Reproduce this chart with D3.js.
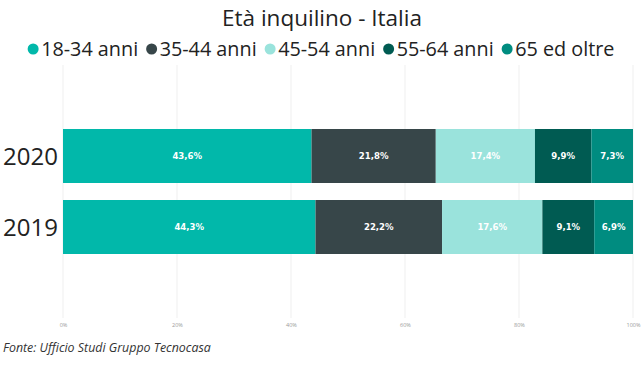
<!DOCTYPE html>
<html><head><meta charset="utf-8">
<script src="https://cdn.jsdelivr.net/npm/d3@7/dist/d3.min.js"></script>
<style>body{margin:0;background:#fff;} svg{display:block;}</style>
</head><body>
<svg id="c" width="642" height="366"></svg>
<script>
const years = ["2020", "2019"];
const series = ["18-34 anni", "35-44 anni", "45-54 anni", "55-64 anni", "65 ed oltre"];
const colors = ["#01B8AA", "#374649", "#9AE3DC", "#005B52", "#008C80"];
const values2020 = [43.6, 21.8, 17.4, 9.9, 7.3];
const values2019 = [44.3, 22.2, 17.6, 9.1, 6.9];
const tickValues = [0, 20, 40, 60, 80, 100];
const title = "Età inquilino - Italia";
const source = "Fonte: Ufficio Studi Gruppo Tecnocasa";

const valuesByYear = {"2020": values2020, "2019": values2019};
const svg = d3.select("#c");
const font = "'Open Sans', 'Noto Sans', sans-serif";

const x = d3.scaleLinear().domain([0, 100]).range([63, 633]);
const y = d3.scaleBand().domain(years).range([129, 254]).paddingInner(0.2394).paddingOuter(0);

// gridlines
svg.append("g").selectAll("line").data(tickValues).join("line")
  .attr("x1", d => x(d)).attr("x2", d => x(d))
  .attr("y1", 65).attr("y2", 318)
  .attr("stroke", "#efefef").attr("stroke-width", 1);

// axis labels
const xAxis = d3.axisBottom(x).tickValues(tickValues).tickFormat(d => d + "%").tickSize(0);
const ax = svg.append("g").attr("transform", "translate(0,320)").call(xAxis);
ax.select(".domain").remove();
ax.selectAll("text").attr("fill", "#999").attr("font-size", 5.5).attr("font-family", font);

// stacked data
const rows = years.map(yr => {
  let acc = 0;
  return valuesByYear[yr].map((v, i) => { const s = acc; acc += v; return {yr, i, v, s, e: acc}; });
});

const g = svg.append("g");
rows.forEach(r => {
  g.selectAll(null).data(r).join("rect")
    .attr("x", d => x(d.s)).attr("width", d => Math.min(x(d.e), x(100)) - x(d.s))
    .attr("y", d => y(d.yr)).attr("height", y.bandwidth())
    .attr("fill", d => colors[d.i]);
  g.selectAll(null).data(r).join("text")
    .attr("x", d => (x(d.s) + Math.min(x(d.e), x(100))) / 2)
    .attr("y", d => y(d.yr) + y.bandwidth() / 2)
    .attr("dy", "0.35em").attr("text-anchor", "middle")
    .attr("fill", "#fff").attr("font-size", 9.5).attr("font-weight", "bold")
    .attr("font-family", "'DejaVu Sans Condensed', 'Roboto', sans-serif")
    .text(d => d.v.toFixed(1).replace(".", ",") + "%");
});

// y labels
svg.append("g").selectAll("text").data(years).join("text")
  .attr("x", 58).attr("y", d => y(d) + y.bandwidth() / 2)
  .attr("dy", "0.36em").attr("text-anchor", "end")
  .attr("font-size", 24).attr("font-family", font).attr("fill", "#222")
  .text(d => d);

// title
svg.append("text").attr("x", 322).attr("y", 26).attr("text-anchor", "middle")
  .attr("font-size", 22.5).attr("font-family", font).attr("fill", "#222").text(title);

// legend
const lg = svg.append("g");
const legItems = lg.selectAll("g").data(series).join("g");
legItems.append("circle").attr("r", 5.5).attr("cy", 0).attr("fill", (d, i) => colors[i]);
legItems.append("text").attr("x", 8).attr("dy", "0.35em")
  .attr("font-size", 19.8).attr("font-family", font).attr("fill", "#222").text(d => d);
const gap = 8;
const widths = legItems.nodes().map(n => n.getBBox().width);
const total = d3.sum(widths) + gap * (series.length - 1);
let start = 321 - total / 2 + 5.5;
legItems.attr("transform", (d, i) => {
  const t = `translate(${start},49)`;
  start += widths[i] + gap;
  return t;
});

// source
svg.append("text").attr("x", 3).attr("y", 352)
  .attr("font-size", 12.4).attr("font-style", "italic").attr("font-family", font)
  .attr("fill", "#333").text(source);
</script>
</body></html>
